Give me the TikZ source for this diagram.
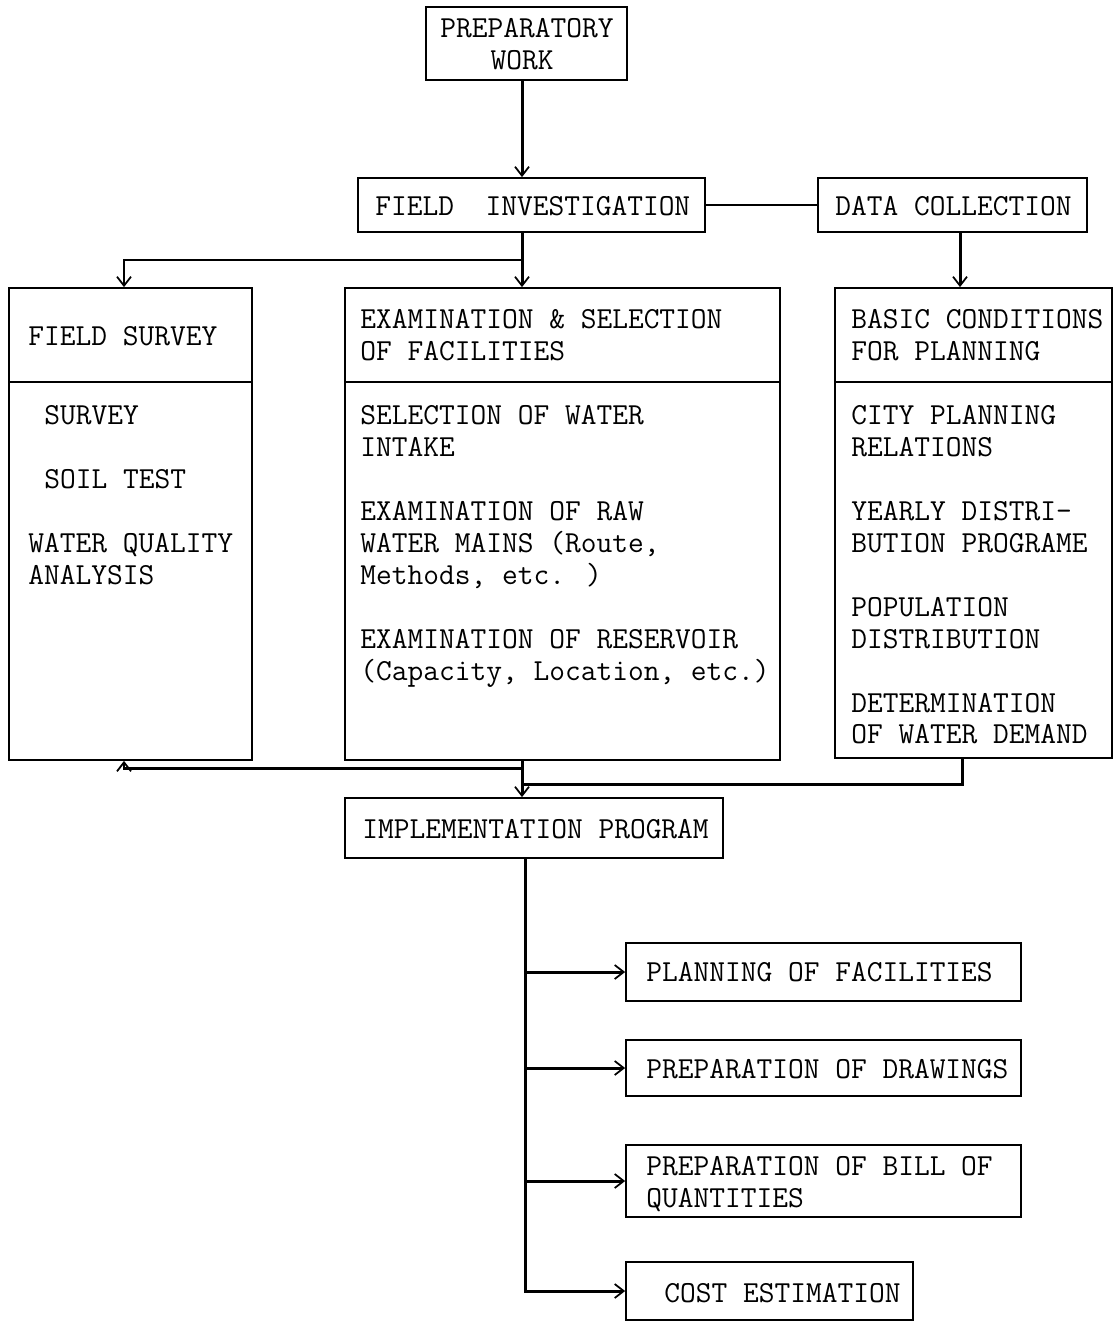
\documentclass[tikz,border=0pt]{standalone}
\usetikzlibrary{fit,arrows.meta}
\begin{document}
\begin{tikzpicture}[x=0.02cm,y=-0.02cm,
  box/.style={draw,line width=1pt,inner sep=0pt},
  conn/.style={line width=1.7pt},
  arr/.style={-{Straight Barb[length=1.8mm,width=2.8mm,line width=1pt]}},
  tl/.style={anchor=base west,inner sep=0pt,font=\fontsize{17.4}{20}\selectfont\ttfamily},
  tc/.style={anchor=base,inner sep=0pt,font=\fontsize{17.4}{20}\selectfont\ttfamily}]
\useasboundingbox[fill=white] (0,0) rectangle (1114,1321);
% boxes
\node[box,fit={(426,7) (627,80)}] (pw) {};
\node[box,fit={(358,178) (705,232)}] (fi) {};
\node[box,fit={(818,178) (1087,232)}] (dc) {};
\node[box,fit={(9,288) (252,760)}] (fs) {};
\node[box,fit={(345,288) (780,760)}] (ex) {};
\node[box,fit={(835,288) (1112,758)}] (bc) {};
\node[box,fit={(345,798) (723,858)}] (ip) {};
\node[box,fit={(626,943) (1021,1001)}] (pf) {};
\node[box,fit={(626,1040) (1021,1096)}] (pd) {};
\node[box,fit={(626,1145) (1021,1217)}] (pb) {};
\node[box,fit={(626,1262) (913,1320)}] (ce) {};
% dividers
\coordinate (dv) at (0,382);
\draw[line width=1pt] (fs.west |- dv) -- (fs.east |- dv);
\draw[line width=1pt] (ex.west |- dv) -- (ex.east |- dv);
\draw[line width=1pt] (bc.west |- dv) -- (bc.east |- dv);
% texts
\node[tc] (t1) at (527,38) {PREPARATORY};
\node[tc] (t2) at (522,70) {WORK};
\node[tl] (t3) at (375,215) {FIELD\ \ INVESTIGATION};
\node[tl] (t4) at (835,215) {DATA COLLECTION};
\node[tl] (t5) at (28,345) {FIELD SURVEY};
\node[tl] (t6) at (44,424) {SURVEY};
\node[tl] (t7) at (44,488) {SOIL TEST};
\node[tl] (t8) at (28,552) {WATER QUALITY};
\node[tl] (t9) at (28,584) {ANALYSIS};
\node[tl] (e1) at (360,328) {EXAMINATION \& SELECTION};
\node[tl] (e2) at (360,360) {OF FACILITIES};
\node[tl] (e3) at (360,424) {SELECTION OF WATER};
\node[tl] (e4) at (360,456) {INTAKE};
\node[tl] (e5) at (360,520) {EXAMINATION OF RAW};
\node[tl] (e6) at (360,552) {WATER MAINS (Route,};
\node[tl] (e7) at (360,584) {Methods, etc. )};
\node[tl] (e8) at (360,648) {EXAMINATION OF RESERVOIR};
\node[tl] (e9) at (360,680) {(Capacity, Location, etc.)};
\node[tl] (b1) at (851,328) {BASIC CONDITIONS};
\node[tl] (b2) at (851,360) {FOR PLANNING};
\node[tl] (b3) at (851,424) {CITY PLANNING};
\node[tl] (b4) at (851,456) {RELATIONS};
\node[tl] (b5) at (851,520) {YEARLY DISTRI-};
\node[tl] (b6) at (851,552) {BUTION PROGRAME};
\node[tl] (b7) at (851,616) {POPULATION};
\node[tl] (b8) at (851,648) {DISTRIBUTION};
\node[tl] (b9) at (851,712) {DETERMINATION};
\node[tl] (b10) at (851,743) {OF WATER DEMAND};
\node[tl] (i1) at (362,838) {IMPLEMENTATION PROGRAM};
\node[tl] (p1) at (646,981) {PLANNING OF FACILITIES};
\node[tl] (p2) at (646,1078) {PREPARATION OF DRAWINGS};
\node[tl] (p3) at (646,1175) {PREPARATION OF BILL OF};
\node[tl] (p4) at (646,1207) {QUANTITIES};
\node[tl] (p5) at (664,1302) {COST ESTIMATION};
% connectors
\coordinate (xc) at (522,0);
\coordinate (xl) at (124,0);
\coordinate (xr) at (960,0);
\coordinate (xr2) at (962,0);
\coordinate (xi) at (525,0);
\coordinate (j1) at (522,260);
\coordinate (j2) at (522,768);
\coordinate (j3) at (522,784);
\draw[conn,arr] (xc |- pw.south) -- (xc |- fi.north);
\draw[conn] (fi.east) -- (dc.west);
\draw[conn,arr] (xc |- fi.south) -- (xc |- ex.north);
\draw[conn,arr] (j1) -| (xl |- fs.north);
\draw[conn,arr] (xr |- dc.south) -- (xr |- bc.north);
\draw[conn,arr] (xc |- ex.south) -- (xc |- ip.north);
\draw[conn,arr] (j2) -| (xl |- fs.south);
\draw[conn] (xr2 |- bc.south) |- (j3);
\draw[conn,arr] (xi |- ip.south) |- (ce.west);
\draw[conn,arr] (xi |- pf.west) -- (pf.west);
\draw[conn,arr] (xi |- pd.west) -- (pd.west);
\draw[conn,arr] (xi |- pb.west) -- (pb.west);
\end{tikzpicture}
\end{document}
